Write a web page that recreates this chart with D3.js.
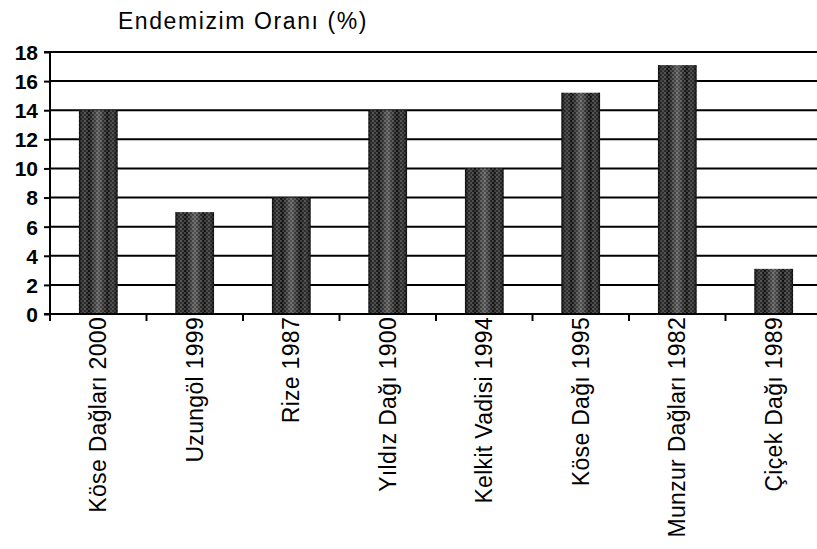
<!DOCTYPE html>
<html lang="tr">
<head>
<meta charset="UTF-8">
<title>Endemizim Oranı</title>
<script src="https://d3js.org/d3.v7.min.js"></script>
<style>
    body { margin: 0; background: #fff; }
    svg { display: block; font-family: "Liberation Sans", Arial, sans-serif; }
</style>
</head>
<body>
<script>
    // chart data
    const categories = ["Köse Dağları 2000", "Uzungöl 1999", "Rize 1987", "Yıldız Dağı 1900",
        "Kelkit Vadisi 1994", "Köse Dağı 1995", "Munzur Dağları 1982", "Çiçek Dağı 1989"];
    const values = [14, 7, 8, 14, 10, 15.2, 17.1, 3.1];
    const yTicks = [0, 2, 4, 6, 8, 10, 12, 14, 16, 18];
    const title = "Endemizim Oranı (%)";

    const width = 817, height = 549;
    const x0 = 50, xEnd = 822, yTop = 52, yBottom = 314;

    const svg = d3.select("body").append("svg")
        .attr("width", width)
        .attr("height", height);

    // dotted pattern like the scanned bars
    const defs = svg.append("defs");
    const pat = defs.append("pattern")
        .attr("id", "dots")
        .attr("patternUnits", "userSpaceOnUse")
        .attr("width", 4).attr("height", 4);
    pat.append("rect").attr("width", 4).attr("height", 4).attr("fill", "#0d0d0d");
    pat.append("circle").attr("cx", 1).attr("cy", 1).attr("r", 0.8).attr("fill", "#808080");
    pat.append("circle").attr("cx", 3).attr("cy", 3).attr("r", 0.8).attr("fill", "#6a6a6a");

    const grad = defs.append("linearGradient").attr("id", "shine")
        .attr("x1", "0").attr("x2", "1").attr("y1", "0").attr("y2", "0");
    grad.append("stop").attr("offset", "0%").attr("stop-color", "#000").attr("stop-opacity", 0.6);
    grad.append("stop").attr("offset", "25%").attr("stop-color", "#fff").attr("stop-opacity", 0);
    grad.append("stop").attr("offset", "50%").attr("stop-color", "#fff").attr("stop-opacity", 0.3);
    grad.append("stop").attr("offset", "75%").attr("stop-color", "#fff").attr("stop-opacity", 0);
    grad.append("stop").attr("offset", "100%").attr("stop-color", "#000").attr("stop-opacity", 0.6);

    const x = d3.scaleBand()
        .domain(categories)
        .range([x0, xEnd])
        .paddingInner(0.6)
        .paddingOuter(0.3);

    const xb = d3.scaleBand().domain(categories).range([x0, xEnd]);

    const y = d3.scaleLinear()
        .domain([0, 18])
        .range([yBottom, yTop]);

    // title
    svg.append("text")
        .attr("x", 243)
        .attr("y", 29)
        .attr("text-anchor", "middle")
        .style("font-size", "23px")
        .style("letter-spacing", "1.6px")
        .text(title);

    // gridlines
    svg.append("g")
        .selectAll("line")
        .data(yTicks.filter(d => d > 0))
        .join("line")
        .attr("x1", x0).attr("x2", width)
        .attr("y1", d => y(d)).attr("y2", d => y(d))
        .attr("stroke", "#000")
        .attr("stroke-width", 2);

    // bars
    svg.append("g")
        .selectAll("rect")
        .data(values)
        .join("rect")
        .attr("x", (d, i) => x(categories[i]))
        .attr("y", d => y(d))
        .attr("width", x.bandwidth())
        .attr("height", d => y(0) - y(d))
        .attr("fill", "url(#dots)");

    svg.append("g")
        .selectAll("rect")
        .data(values)
        .join("rect")
        .attr("x", (d, i) => x(categories[i]))
        .attr("y", d => y(d))
        .attr("width", x.bandwidth())
        .attr("height", d => y(0) - y(d))
        .attr("fill", "url(#shine)");

    // y axis
    const yAxis = svg.append("g")
        .attr("transform", `translate(${x0},0)`)
        .call(d3.axisLeft(y).tickValues(yTicks).tickSize(6).tickPadding(6));
    yAxis.select(".domain").attr("stroke-width", 2).attr("d", `M-6,${yTop}H0V${yBottom}H-6`);
    yAxis.selectAll(".tick line").attr("stroke-width", 2);
    yAxis.selectAll(".tick text")
        .style("font-size", "21px")
        .style("font-weight", "bold")
        .attr("fill", "#000")
        .attr("dy", "0.35em");

    // x axis line and ticks between categories
    svg.append("line")
        .attr("x1", x0).attr("x2", width)
        .attr("y1", yBottom).attr("y2", yBottom)
        .attr("stroke", "#000").attr("stroke-width", 2);

    svg.append("g")
        .selectAll("line")
        .data(categories)
        .join("line")
        .attr("x1", d => xb(d)).attr("x2", d => xb(d))
        .attr("y1", yBottom).attr("y2", yBottom + 7)
        .attr("stroke", "#000").attr("stroke-width", 2);

    // category labels
    svg.append("g")
        .selectAll("text")
        .data(categories)
        .join("text")
        .attr("transform", d => `translate(${x(d) + x.bandwidth() / 2 + 8},${yBottom + 3}) rotate(-90)`)
        .attr("text-anchor", "end")
        .style("font-size", "23px")
        .style("letter-spacing", "0.3px")
        .text(d => d);
</script>
</body>
</html>
